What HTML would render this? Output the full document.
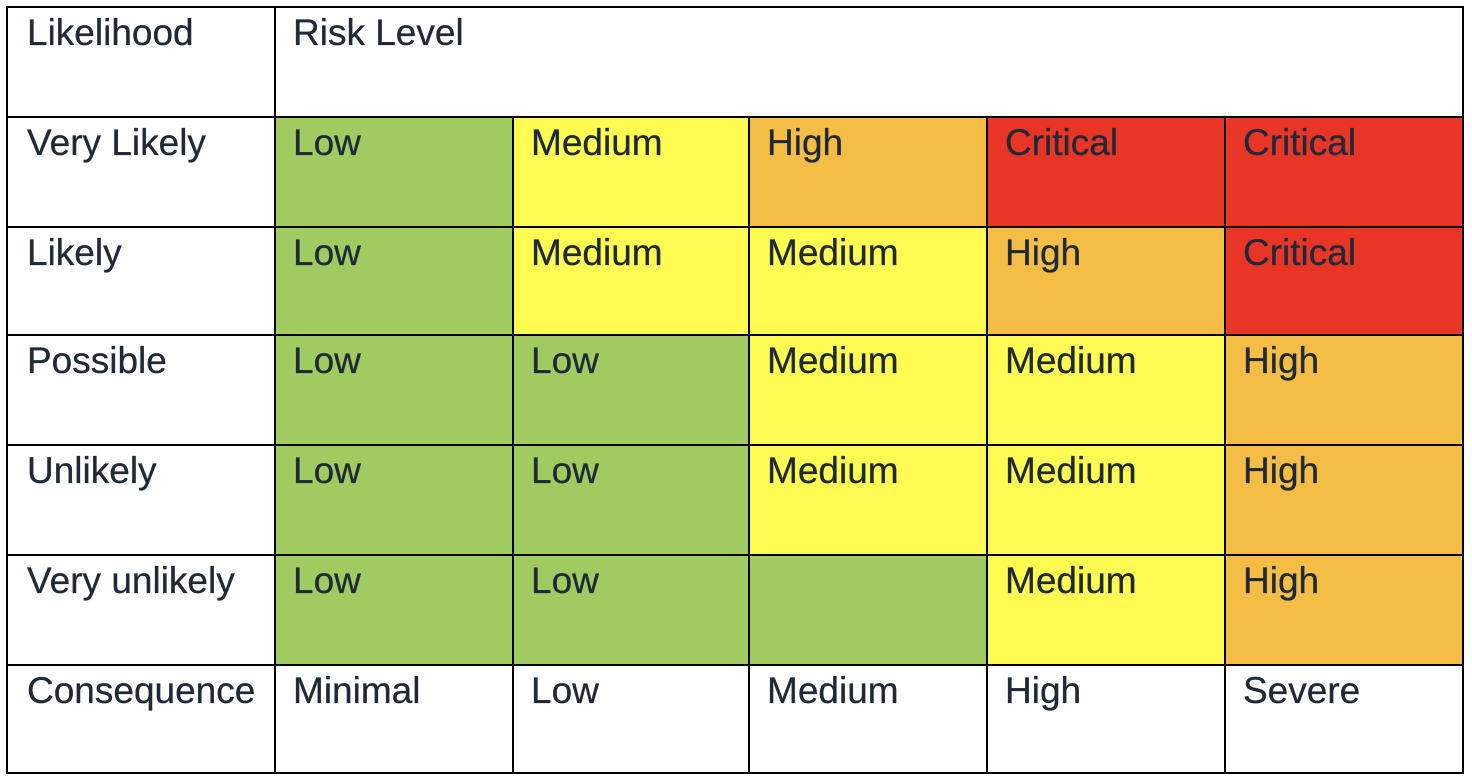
<!DOCTYPE html>
<html><head><meta charset="utf-8"><style>
body{margin:0;background:#fff;width:1472px;height:782px;overflow:hidden;font-family:"Liberation Sans",Arial,sans-serif}
#grid{position:absolute;left:0;top:0;width:1472px;height:782px}
.cell{position:absolute;box-sizing:border-box;border:2px solid #000;margin:-1px 0 0 -1px}
.cell span{position:absolute;left:17px;top:4px;font-size:37px;line-height:42px;color:#1f2937;white-space:nowrap;-webkit-text-stroke:0.3px #1f2937}
</style></head><body>
<div id="grid"></div>
<script>
const colX=[7,275,513,749,987,1225,1463];
const rowY=[7,117,227,335,445,555,665,773];
const likelihoods=["Very Likely","Likely","Possible","Unlikely","Very unlikely"];
const consequences=["Minimal","Low","Medium","High","Severe"];
const levels=[
 ["Low","Medium","High","Critical","Critical"],
 ["Low","Medium","Medium","High","Critical"],
 ["Low","Low","Medium","Medium","High"],
 ["Low","Low","Medium","Medium","High"],
 ["Low","Low","","Medium","High"]];
const cellColors=[
 ["g","y","o","r","r"],["g","y","y","o","r"],["g","g","y","y","o"],["g","g","y","y","o"],["g","g","g","y","o"]];
const palette={g:"#a0cb61",y:"#fefb52",o:"#f4bd45",r:"#e93526"};
const grid=document.getElementById('grid');
function cell(c1,c2,r1,r2,text,bg,name){
 const d=document.createElement('div');d.className='cell';
 
 
 d.style.left=colX[c1]+'px';d.style.top=rowY[r1]+'px';
 d.style.width=(colX[c2]-colX[c1]+2)+'px';d.style.height=(rowY[r2]-rowY[r1]+2)+'px';
 if(bg)d.style.background=bg;
 const s=document.createElement('span');s.textContent=text;
 if(c1===0)s.style.left='19px';
 d.appendChild(s);grid.appendChild(d);
}
cell(0,1,0,1,"Likelihood",null,"likelihood-header");
cell(1,6,0,1,"Risk Level",null,"risk-level-header");
likelihoods.forEach((l,i)=>{
 cell(0,1,i+1,i+2,l,null,"likelihood-label");
 levels[i].forEach((v,j)=>cell(j+1,j+2,i+1,i+2,v,palette[cellColors[i][j]],"risk-cell"));
});
cell(0,1,6,7,"Consequence",null,"consequence-header");
consequences.forEach((c,j)=>cell(j+1,j+2,6,7,c,null,"consequence-label"));
</script>
</body></html>
